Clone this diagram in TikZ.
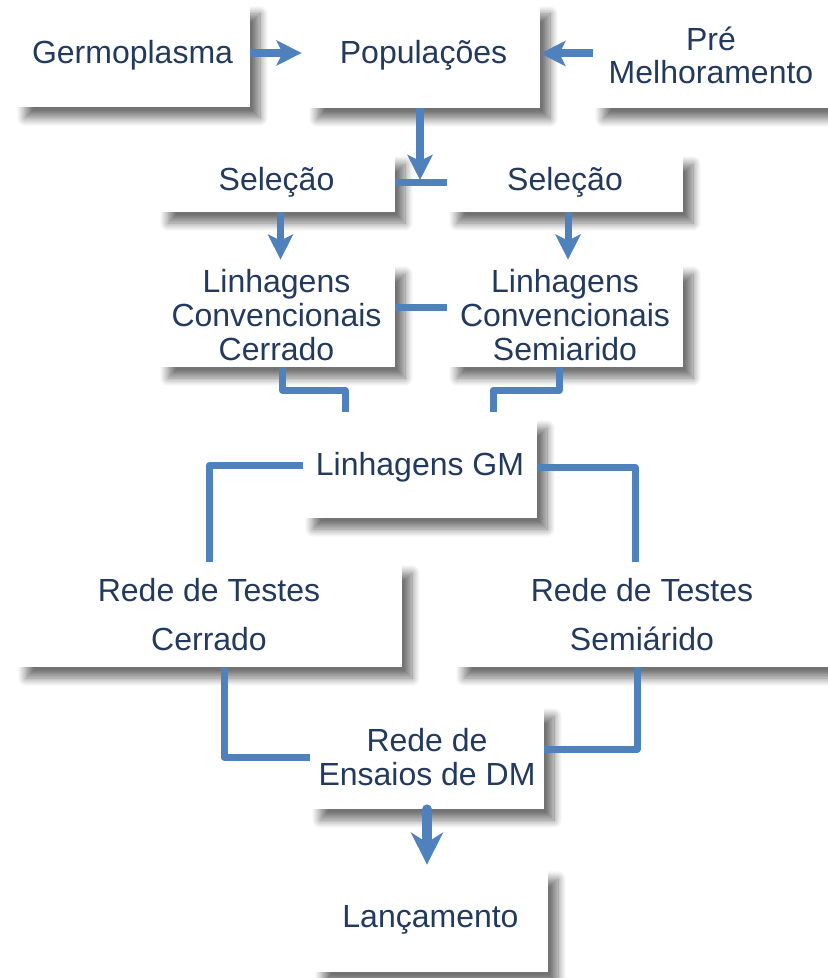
\documentclass[tikz,border=0pt]{standalone}
\usepackage{fontspec}
\setmainfont{Liberation Sans}
\usetikzlibrary{arrows.meta,shadows.blur,calc}
\definecolor{lineblue}{RGB}{79,129,189}
\definecolor{txt}{RGB}{35,58,94}
\tikzset{
  box/.style={rectangle, fill=white, draw=none, inner sep=0pt, align=center,
    text=txt, font=\fontsize{16}{17}\selectfont,
    blur shadow={shadow xshift=5pt, shadow yshift=-5.5pt, shadow blur radius=4pt,
      shadow blur steps=12, shadow opacity=55}},
  conn/.style={draw=lineblue, line width=3.5pt, line join=round},
  arr/.style={draw=lineblue, line width=4pt,
    -{Stealth[length=12.5pt, width=12.5pt, inset=3pt, color=lineblue]}},
  bigarr/.style={draw=lineblue, line width=5pt, line cap=round,
    -{Stealth[length=16pt, width=16pt, inset=5pt, color=lineblue]}}
}
\begin{document}
\begin{tikzpicture}[x=0.5pt,y=-0.5pt]
\useasboundingbox (0,0) rectangle (827,978);
% boxes
\node[box, minimum width=117.5pt, minimum height=52pt] (germ) at (132.5,55) {Germoplasma};
\node[box, minimum width=116.5pt, minimum height=52.5pt] (pop) at (423.5,55.5) {Populações};
\node[box, minimum width=118pt, minimum height=52.5pt, font=\fontsize{16}{16.5}\selectfont] (pre) at (711,55.5) {Pré\\Melhoramento};
\node[box, minimum width=118.5pt, minimum height=29.5pt] (selL) at (276.5,182.5) {Seleção};
\node[box, minimum width=118pt, minimum height=29.5pt] (selR) at (565,182.5) {Seleção};
\node[box, minimum width=118.5pt, minimum height=52pt] (linL) at (276.5,315) {Linhagens\\Convencionais\\Cerrado};
\node[box, minimum width=118pt, minimum height=52pt] (linR) at (565,315) {Linhagens\\Convencionais\\Semiarido};
\node[box, minimum width=117pt, minimum height=50.5pt] (gm) at (420,467.5) {Linhagens GM};
\node[box, minimum width=193pt, minimum height=52.5pt, font=\fontsize{16}{24.5}\selectfont] (rtL) at (209,614.5) {Rede de Testes\\Cerrado};
\node[box, minimum width=188pt, minimum height=52.5pt, font=\fontsize{16}{24.5}\selectfont] (rtR) at (642,614.5) {Rede de Testes\\Semiárido};
\node[box, minimum width=117pt, minimum height=52pt] (dm) at (427,757) {Rede de\\Ensaios de DM};
\node[box, minimum width=117.5pt, minimum height=52pt] (lan) at (430.5,920) {Lançamento};
% coordinates
\coordinate (pd) at (420,180);
\coordinate (cL) at (345,412);
\coordinate (cR) at (493,412);
% connectors
\draw[arr, shorten >=2.5pt] ([yshift=1pt]germ.east) -- ([yshift=1pt]germ.east -| pop.west);
\draw[arr] ([yshift=1pt]pre.west) -- ([yshift=1pt]pre.west -| pop.east);
\draw[arr] (pop.south -| pd) -- (pd);
\draw[conn] (selL.east) -- (selR.west);
\draw[arr, line width=3.5pt, shorten >=1.5pt] ([xshift=2pt]selL.south) -- ([xshift=2pt]linL.north);
\draw[arr, line width=3.5pt, shorten >=1.5pt] ([xshift=1.5pt]selR.south) -- ([xshift=1.5pt]linR.north);
\draw[conn] ([yshift=3.5pt]linL.east) -- ([yshift=3.5pt]linR.west);
\draw[conn] ([xshift=3pt]linL.south) -- ++(0,23) -| (cL);
\draw[conn] ([xshift=-3pt]linR.south) -- ++(0,23) -| (cR);
\draw[conn] ([yshift=1pt]gm.west) -| (rtL.north);
\draw[conn] (gm.east) -| ([xshift=-3.5pt]rtR.north);
\draw[conn] ([xshift=7.5pt]rtL.south) |- (dm.west);
\draw[conn] ([xshift=-2.5pt]rtR.south) |- ([yshift=4pt]dm.east);
\draw[bigarr, shorten >=1.5pt] (dm.south) -- (dm.south |- lan.north);
\end{tikzpicture}
\end{document}
